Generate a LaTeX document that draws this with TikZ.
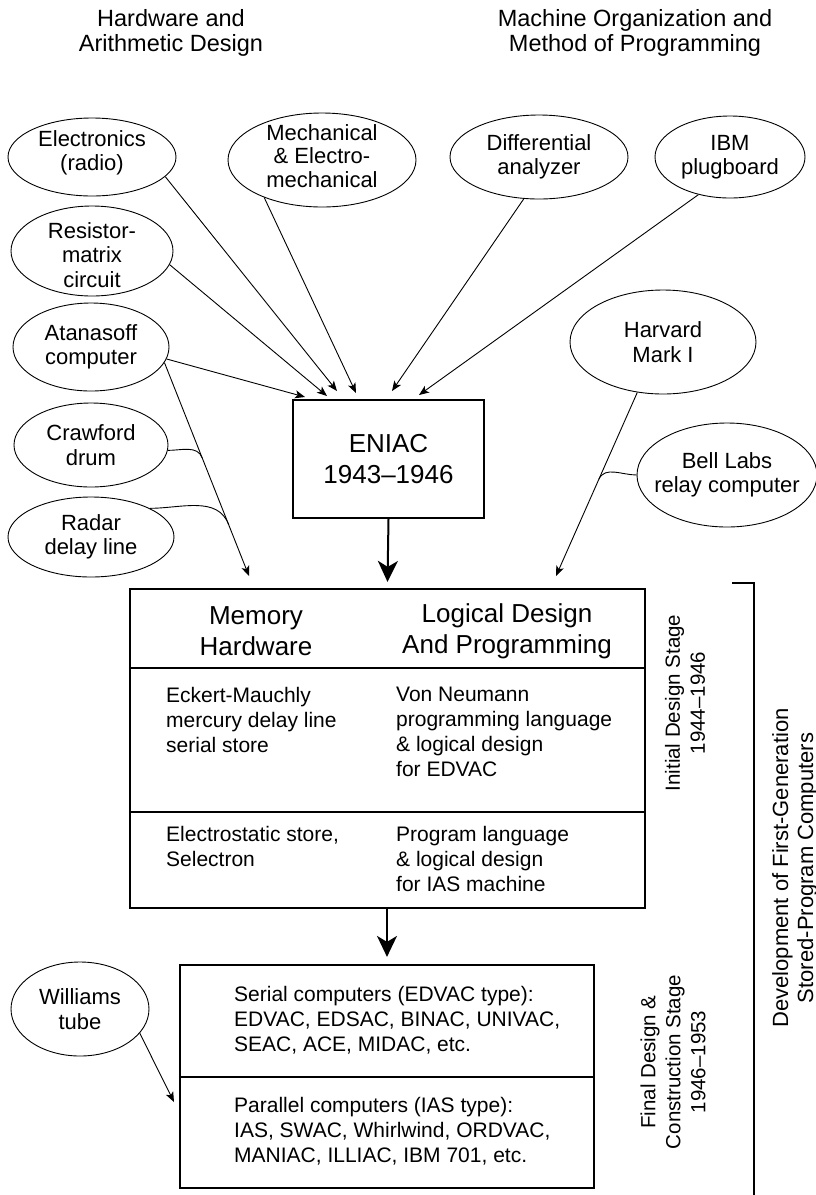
\documentclass[tikz,border=0pt]{standalone}
\usepackage{fontspec}
\setmainfont{Liberation Sans}
\usetikzlibrary{shapes.geometric,arrows.meta,calc}

\tikzset{
  bubble/.style 2 args={ellipse, draw, line width=0.9pt, inner sep=0pt, minimum width=#1, minimum height=#2},
  btext/.style={align=center, font=\fontsize{22}{24.5}\selectfont},
  feed/.style={line width=0.9pt, -{Stealth[length=10pt,width=8pt,inset=2.5pt]}},
  merge/.style={line width=0.9pt},
  bigbox/.style={draw, line width=2.2pt, inner sep=0pt},
  main/.style={line width=2pt, -{Stealth[length=21pt,width=20pt,inset=6pt]}},
  sep/.style={line width=1.2pt},
  cell/.style={align=left, anchor=north west, inner sep=0pt, font=\fontsize{21}{25}\selectfont},
  head/.style={align=center, font=\fontsize{26}{31}\selectfont},
  title/.style={align=center, font=\fontsize{23.5}{25.5}\selectfont},
  stage/.style={rotate=90, align=center, font=\fontsize{20.5}{25}\selectfont},
}

\begin{document}
\begin{tikzpicture}[x=1pt, y=-1pt]
    \useasboundingbox (0,0) rectangle (816,1195);

    % --- Column titles ---
    \node[title] (hwtitle) at (171,33) {Hardware and\\Arithmetic Design};
    \node[title] (motitle) at (635,33) {Machine Organization and\\Method of Programming};

    % --- Sources ---
    \node[bubble={168}{78}, label={[btext, yshift=4pt]center:{Electronics\\(radio)}}] (elec) at (92,157) {};
    \node[bubble={188}{94}, label={[btext, yshift=4pt, font=\fontsize{22}{23.5}\selectfont]center:{Mechanical\\\& Electro-\\mechanical}}] (mech) at (322,160) {};
    \node[bubble={178}{84}, label={[btext]center:{Differential\\analyzer}}] (diff) at (539,157) {};
    \node[bubble={150}{82}, label={[btext]center:{IBM\\plugboard}}] (ibm) at (730,157) {};
    \node[bubble={162}{90}, label={[btext, yshift=-4pt]center:{Resistor-\\matrix\\circuit}}] (res) at (92,251) {};
    \node[bubble={156}{88}, label={[btext]center:{Atanasoff\\computer}}] (ata) at (91,347) {};
    \node[bubble={154}{84}, label={[btext]center:{Crawford\\drum}}] (craw) at (91,445) {};
    \node[bubble={166}{80}, label={[btext]center:{Radar\\delay line}}] (rad) at (91,537) {};
    \node[bubble={186}{104}, label={[btext]center:{Harvard\\Mark I}}] (harv) at (663,342) {};
    \node[bubble={180}{104}, label={[btext]center:{Bell Labs\\relay computer}}] (bell) at (727,475) {};
    \node[bubble={138}{94}, label={[btext]center:{Williams\\tube}}] (will) at (80,1009) {};

    % --- ENIAC ---
    \node[bigbox, head, minimum width=191, minimum height=118] (eniac) at (388.5,459) {ENIAC\\1943--1946};

    % arrow ends just above the box
    \coordinate (inAta) at (305,397);
    \coordinate (inRes) at (327,396);
    \coordinate (inElec) at (337,391);
    \coordinate (inMech) at (356,393);
    \coordinate (inDiff) at (392,391);
    \coordinate (inIbm) at (419,395);

    \draw[feed] (ata.-9) -- (inAta);
    \draw[feed] (res.-10) -- (inRes);
    \draw[feed] (elec.-15) -- (inElec);
    \draw[feed] (mech.-147) -- (inMech);
    \draw[feed] (diff.-110) -- (inDiff);
    \draw[feed] (ibm.-130) -- (inIbm);

    % --- Memory / logical design box ---
    \node[bigbox, minimum width=515, minimum height=319] (mem) at (387.5,748.5) {};
    \draw[sep] (mem.west |- 0,668) -- (mem.east |- 0,668);
    \draw[sep] (mem.west |- 0,812) -- (mem.east |- 0,812);

    \node[head] (memhead) at (256,631) {Memory\\Hardware};
    \node[head] (loghead) at (507,631) {Logical Design\\And Programming};
    \node[cell] (eckert) at (166,687) {Eckert-Mauchly\\mercury delay line\\serial store};
    \node[cell] (vonneu) at (396,687) {Von Neumann\\programming language\\\& logical design\\for EDVAC};
    \node[cell] (selec) at (166,826) {Electrostatic store,\\Selectron};
    \node[cell] (iasprog) at (396,826) {Program language\\\& logical design\\for IAS machine};

    \draw[main] (eniac.south) -- ([yshift=6pt]mem.north);

    % memory sources: Atanasoff line with Crawford and Radar merging in
    \coordinate (memL) at (249,576);
    \coordinate (jCraw) at ($(ata.-12)!0.447!(memL)$);
    \coordinate (jRad) at ($(ata.-12)!0.761!(memL)$);
    \draw[feed] (ata.-12) -- (memL);
    \draw[merge] (craw.-4) to[out=0, in=110] (jCraw);
    \draw[merge] (rad.26) to[out=0, in=110] (jRad);

    % logical design sources: Harvard line with Bell Labs merging in
    \coordinate (memR) at (556,576);
    \coordinate (jBell) at ($(harv.-117)!0.473!(memR)$);
    \draw[feed] (harv.-117) -- (memR);
    \draw[merge] (bell.west) to[out=180, in=65] (jBell);

    % --- Built machines ---
    \node[bigbox, minimum width=414, minimum height=223] (built) at (387,1076.5) {};
    \draw[sep] (built.west |- 0,1077) -- (built.east |- 0,1077);
    \node[cell] (serial) at (234,986) {Serial computers (EDVAC type):\\EDVAC, EDSAC, BINAC, UNIVAC,\\SEAC, ACE, MIDAC, etc.};
    \node[cell] (parallel) at (234,1097) {Parallel computers (IAS type):\\IAS, SWAC, Whirlwind, ORDVAC,\\MANIAC, ILLIAC, IBM 701, etc.};

    \draw[main] (mem.south -| built.north) -- ([yshift=7pt]built.north);

    \coordinate (wTip) at (174,1102);
    \draw[feed] (will.-22) -- (wTip);

    % --- Stages ---
    \node[stage] (initial) at (685,703) {Initial Design Stage\\1944--1946};
    \node[stage] (final) at (673,1062) {Final Design \&\\Construction Stage\\1946--1953};
    \draw[line width=1.5pt] (732,583) -- (754,583) -- (754,1195);
    \node[stage, font=\fontsize{22}{25}\selectfont] (devel) at (795,868) {Development of First-Generation\\Stored-Program Computers};

\end{tikzpicture}
\end{document}
